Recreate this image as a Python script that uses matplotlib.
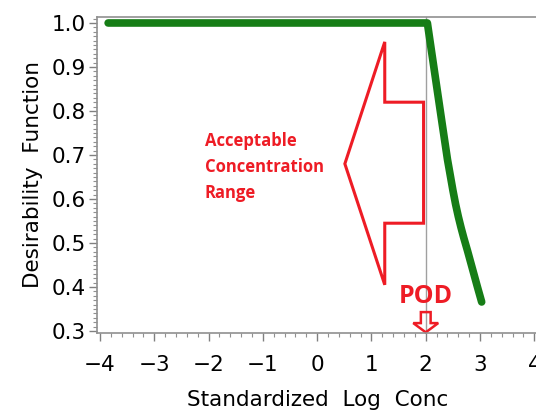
import numpy as np
import matplotlib
matplotlib.use('Agg')
import matplotlib.pyplot as plt
from matplotlib.patches import Polygon
from matplotlib.ticker import MultipleLocator

# desirability curve
conc = [-3.85, -2.0, 0.0, 1.0, 2.03, 2.10, 2.20, 2.30, 2.40, 2.45, 2.50, 2.55, 2.60,
        2.65, 2.70, 2.77, 2.85, 2.95, 3.03]
desir = [1.0, 1.0, 1.0, 1.0, 1.0, 0.941, 0.857, 0.773, 0.690, 0.655, 0.620, 0.588, 0.560,
         0.535, 0.512, 0.482, 0.446, 0.401, 0.366]
pod = 2.0
xticks = [-4, -3, -2, -1, 0, 1, 2, 3, 4]
yticks = [0.3, 0.4, 0.5, 0.6, 0.7, 0.8, 0.9, 1.0]

plt.rcParams['font.family'] = ['DejaVu Sans']
fig = plt.figure(figsize=(5.36, 4.16), dpi=100)
ax = fig.add_axes([97/536, 83/416, 0.822, 316/416])

ax.axvline(pod, color='#a0a0a0', lw=1, zorder=1)
ax.plot(conc, desir, color='#167d16', lw=5.5, solid_capstyle='round', solid_joinstyle='round', zorder=3)

# big hollow arrow pointing left
big = [(0.51, 0.680), (1.245, 0.957), (1.245, 0.820), (1.96, 0.820),
       (1.96, 0.545), (1.245, 0.545), (1.245, 0.405)]
ax.add_patch(Polygon(big, closed=True, fill=False, edgecolor='#ee1c25', lw=2.2, joinstyle='miter', zorder=2))
ax.text(-2.07, 0.673, 'Acceptable\nConcentration\nRange', color='#ee1c25', fontsize=12,
        fontweight='bold', family=['Open Sans', 'DejaVu Sans'], ha='left', va='center', linespacing=1.55)

# POD marker
ax.text(pod, 0.378, 'POD', color='#ee1c25', fontsize=18, fontweight='bold',
        family=['Open Sans', 'DejaVu Sans'], ha='center', va='center')
small = [(pod - 0.09, 0.343), (pod + 0.09, 0.343), (pod + 0.09, 0.318), (pod + 0.23, 0.318),
         (pod, 0.297), (pod - 0.23, 0.318), (pod - 0.09, 0.318)]
ax.add_patch(Polygon(small, closed=True, fill=False, edgecolor='#ee1c25', lw=1.8, zorder=2, clip_on=False))

ax.set_xlim(-4.055, 4.06)
ax.set_ylim(0.2955, 1.0136)
ax.set_xticks(xticks)
ax.set_xticklabels([str(t).replace('-', '\u2212') for t in xticks])
ax.set_yticks(yticks)
ax.set_yticklabels(['%.1f' % t for t in yticks])
ax.xaxis.set_minor_locator(MultipleLocator(0.2))
ax.yaxis.set_minor_locator(MultipleLocator(0.01))
ax.tick_params(which='major', direction='out', length=6, width=1, color='#808080', labelsize=15.5, pad=10)
ax.tick_params(axis='y', which='major', pad=2)
ax.tick_params(which='minor', direction='out', length=3, width=0.8, color='#909090')
for s in ax.spines.values():
    s.set_color('#909090')
    s.set_linewidth(1.2)
ax.spines['right'].set_visible(False)

ax.set_xlabel('Standardized  Log  Conc', fontsize=15.5, labelpad=11)
ax.set_ylabel('Desirability  Function', fontsize=15.5, labelpad=6)

fig.savefig('out.png', dpi=100)
